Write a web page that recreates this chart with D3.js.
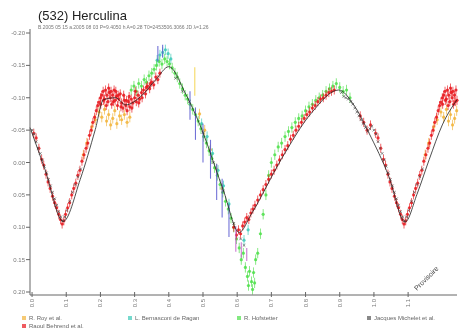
<!DOCTYPE html>
<html>
<head>
<meta charset="utf-8">
<script src="https://cdn.jsdelivr.net/npm/d3@7"></script>
<style>
  body { margin: 0; background: #fff; }
  svg { display: block; font-family: "Liberation Sans", Arial, sans-serif; filter: blur(0.3px); }
</style>
</head>
<body>
<svg id="LightCurve" width="459" height="332"></svg>
<script>
// [phase, magnitude] per observer
const behrendObs = [
  [0.005,-0.045],[0.012,-0.038],[0.020,-0.022],[0.028,-0.005],[0.034,0.004],[0.041,0.018],
  [0.047,0.030],[0.053,0.040],[0.060,0.052],[0.066,0.062],[0.072,0.070],[0.078,0.080],
  [0.083,0.088],[0.088,0.095],[0.093,0.090],[0.098,0.080],[0.104,0.070],[0.110,0.062],
  [0.116,0.050],[0.122,0.040],[0.128,0.032],[0.134,0.020],[0.140,0.012],[0.146,-0.002],
  [0.152,-0.012],[0.158,-0.022],[0.163,-0.030],[0.168,-0.042],[0.173,-0.050],[0.178,-0.062],
  [0.183,-0.070],[0.188,-0.080],[0.192,-0.088],[0.196,-0.093],[0.200,-0.100],[0.204,-0.104],
  [0.208,-0.110],[0.212,-0.098],[0.215,-0.112],[0.219,-0.104],[0.222,-0.094],[0.226,-0.108],
  [0.229,-0.100],[0.233,-0.090],[0.236,-0.104],[0.240,-0.112],[0.243,-0.096],[0.247,-0.102],
  [0.250,-0.088],[0.254,-0.098],[0.258,-0.106],[0.262,-0.092],[0.266,-0.084],[0.270,-0.096],
  [0.274,-0.088],[0.278,-0.080],[0.282,-0.094],[0.286,-0.086],[0.290,-0.098],[0.295,-0.092],
  [0.300,-0.100],[0.305,-0.094],[0.310,-0.104],[0.315,-0.098],[0.320,-0.108],[0.326,-0.112],
  [0.332,-0.106],[0.338,-0.118],[0.344,-0.114],[0.350,-0.124],[0.356,-0.120],[0.362,-0.132],
  [0.368,-0.128],[0.374,-0.138],
  [0.201,-0.090],[0.209,-0.096],[0.217,-0.088],[0.224,-0.115],[0.231,-0.110],[0.238,-0.094],
  [0.245,-0.110],[0.252,-0.104],[0.260,-0.086],[0.268,-0.104],[0.276,-0.096],[0.284,-0.102],
  [0.292,-0.084],[0.302,-0.110],[0.312,-0.092],[0.322,-0.100],[0.334,-0.116],[0.346,-0.122],
  [0.590,0.100],[0.598,0.112],[0.604,0.104],[0.610,0.110],[0.616,0.098],[0.622,0.092],
  [0.628,0.085],[0.634,0.088],[0.640,0.078],[0.646,0.072],[0.652,0.066],[0.660,0.058],
  [0.668,0.050],[0.676,0.042],[0.684,0.034],[0.692,0.026],[0.700,0.018],[0.708,0.012],
  [0.716,0.004],[0.724,-0.004],[0.732,-0.012],[0.740,-0.020],[0.748,-0.026],[0.756,-0.036],
  [0.764,-0.042],[0.772,-0.050],[0.780,-0.056],[0.788,-0.062],[0.796,-0.068],[0.804,-0.074],
  [0.812,-0.078],[0.820,-0.084],[0.828,-0.088],[0.836,-0.094],[0.844,-0.098],[0.852,-0.100],
  [0.860,-0.104],[0.868,-0.108],[0.876,-0.110],[0.884,-0.112],
  [0.960,-0.072],[0.970,-0.062],[0.980,-0.050],[0.990,-0.058]
];
const hofstetterObs = [
  [0.290,-0.112],[0.298,-0.118],[0.305,-0.110],[0.312,-0.122],[0.320,-0.118],[0.328,-0.128],
  [0.335,-0.124],[0.342,-0.134],[0.350,-0.138],[0.357,-0.144],[0.364,-0.150],[0.372,-0.156],
  [0.380,-0.152],[0.388,-0.160],[0.395,-0.156],[0.402,-0.152],[0.410,-0.146],[0.418,-0.138],
  [0.425,-0.132],[0.432,-0.122],[0.440,-0.114],[0.448,-0.104],[0.455,-0.098],[0.462,-0.090],
  [0.470,-0.082],[0.478,-0.074],[0.486,-0.064],[0.494,-0.052],[0.502,-0.040],[0.510,-0.030],
  [0.518,-0.018],[0.526,-0.006],[0.534,0.008],[0.542,0.020],[0.550,0.034],[0.558,0.046],
  [0.566,0.060],[0.574,0.072],[0.582,0.086],[0.590,0.100],[0.598,0.118],[0.606,0.132],
  [0.612,0.150],[0.618,0.140],[0.624,0.162],[0.630,0.176],[0.636,0.168],[0.642,0.184],
  [0.648,0.170],[0.654,0.150],[0.660,0.140],[0.668,0.110],[0.676,0.080],[0.684,0.050],
  [0.692,0.020],[0.700,0.000],[0.710,-0.012],[0.720,-0.024],[0.730,-0.030],[0.740,-0.040],
  [0.750,-0.048],[0.760,-0.054],[0.770,-0.062],[0.780,-0.068],[0.790,-0.072],[0.800,-0.080],
  [0.810,-0.086],[0.820,-0.090],[0.830,-0.096],[0.840,-0.100],[0.850,-0.104],[0.860,-0.110],
  [0.870,-0.114],[0.880,-0.118],[0.890,-0.122],[0.900,-0.116],[0.910,-0.110],[0.920,-0.112],
  [0.930,-0.100],[0.633,0.190],[0.645,0.196],[0.651,0.186]
];
const bernasconiObs = [
  [0.366,-0.158],[0.374,-0.166],[0.382,-0.170],[0.390,-0.174],[0.398,-0.168],[0.406,-0.160],
  [0.496,-0.060],[0.512,-0.040],[0.528,-0.014],[0.544,0.012],[0.560,0.036],[0.576,0.064],
  [0.620,0.120],[0.632,0.104]
];
const royObs = [
  [0.150,-0.012],[0.160,-0.030],[0.175,-0.055],[0.185,-0.066],[0.196,-0.078],[0.204,-0.070],
  [0.212,-0.082],[0.218,-0.064],[0.224,-0.074],[0.230,-0.058],[0.236,-0.068],[0.242,-0.080],
  [0.248,-0.060],[0.256,-0.072],[0.262,-0.066],[0.270,-0.074],[0.278,-0.062],[0.286,-0.070],
  [0.490,-0.075],[0.505,-0.050],[0.522,-0.020],[0.540,0.010],[0.556,0.040]
];
const micheletObs = [
  [0.905,-0.108],[0.912,-0.102],[0.918,-0.100],[0.925,-0.098],[0.932,-0.094],[0.938,-0.090],
  [0.944,-0.084],[0.950,-0.078],[0.956,-0.072],[0.962,-0.066],[0.968,-0.060],[0.975,-0.054],
  [0.982,-0.048],[0.988,-0.052],[0.994,-0.056],[0.000,-0.050],[0.006,-0.044],[0.012,-0.032],
  [0.018,-0.022],[0.024,-0.014],[0.030,-0.004],[0.036,0.006],[0.042,0.016],[0.048,0.026],
  [0.054,0.036],[0.060,0.046],[0.066,0.056],[0.072,0.066],[0.078,0.076],[0.084,0.084],
  [0.090,0.090],[0.096,0.084],[0.102,0.074],[0.110,0.060],[0.118,0.046],[0.126,0.034],
  [0.134,0.022],[0.142,0.010],[0.420,-0.130],[0.440,-0.110],[0.460,-0.094],[0.500,-0.046],
  [0.530,0.000],[0.560,0.044],[0.590,0.094],[0.610,0.118],[0.620,0.128]
];
// [phase, magnitude, error] long error bars
const blueObs = [
  [0.368,-0.168,0.012],[0.382,-0.172,0.010],[0.462,-0.088,0.022],[0.478,-0.060,0.025],
  [0.500,-0.030,0.030],[0.522,-0.005,0.030],[0.540,0.030,0.028],[0.556,0.055,0.030],
  [0.576,0.090,0.025]
];
const purpleObs = [[0.596,0.118,0.020],[0.612,0.135,0.012],[0.628,0.142,0.010]];
const yellowBar = [[0.476,-0.125,0.022]];

// fitted light curve
const fitPhase = [-0.006,0.038,0.091,0.141,0.185,0.209,0.244,0.274,0.318,0.362,0.400,0.450,0.488,
  0.559,0.606,0.641,0.729,0.818,0.897,0.941,0.985,1.044,1.091,1.126,1.162,1.200,1.243];
const fitMag = [-0.054,0.011,0.091,0.026,-0.051,-0.097,-0.100,-0.089,-0.102,-0.128,-0.148,-0.105,-0.062,
  0.042,0.108,0.080,-0.005,-0.077,-0.112,-0.089,-0.046,0.022,0.092,0.049,-0.005,-0.058,-0.097];

const phaseTicks = [0.0,0.1,0.2,0.3,0.4,0.5,0.6,0.7,0.8,0.9,1.0,1.1];
const phaseLabels = ["0.0","0.1","0.2","0.3","0.4","0.5","0.6","0.7","0.8","0.9","1.0","1.1"];
const magTicks = [-0.20,-0.15,-0.10,-0.05,0.00,0.05,0.10,0.15,0.20];
const magLabels = ["-0.20","-0.15","-0.10","-0.05","0.00","0.05","0.10","0.15","0.20"];

const legendNames = ["R. Roy et al.","L. Bernasconi de Ragan","R. Hofstetter","Jacques Michelet et al.","Raoul Behrend et al."];

const svg = d3.select("svg#LightCurve");
const xScale = d3.scaleLinear().domain([-0.006, 1.243]).range([30, 457]);
const yScale = d3.scaleLinear().domain([-0.20, 0.20]).range([33, 292]);
const axisY = 295;

// phases below ~0.24 are repeated after 1.0
function wrap(data) {
  const out = data.slice();
  data.forEach(d => { if (d[0] + 1 <= 1.243) out.push([d[0] + 1, d[1], d[2]]); });
  return out;
}

const series = [
  { data: royObs, color: "#f2b43a", err: 0.008, kind: "dot" },
  { data: bernasconiObs, color: "#3cc9b8", err: 0.008, kind: "dot" },
  { data: hofstetterObs, color: "#4ee04a", err: 0.008, kind: "dot" },
  { data: behrendObs, color: "#e8161c", err: 0.007, kind: "dot" },
  { data: micheletObs, color: "#555", err: 0, kind: "cross" },
  { data: blueObs, color: "#5a5ad0", err: 0, kind: "bar" },
  { data: purpleObs, color: "#c060c8", err: 0, kind: "bar" },
  { data: yellowBar, color: "#f4d24a", err: 0, kind: "bar" }
];

const plot = svg.append("g").attr("id", "Points");

series.forEach(s => {
  const g = plot.append("g");
  const pts = wrap(s.data);
  const e = d => (d[2] !== undefined ? d[2] : s.err);
  g.selectAll("line.err").data(pts).enter().append("line")
    .attr("class", "err")
    .attr("x1", d => xScale(d[0])).attr("x2", d => xScale(d[0]))
    .attr("y1", d => yScale(d[1] - e(d))).attr("y2", d => yScale(d[1] + e(d)))
    .attr("stroke", s.color).attr("stroke-width", s.kind === "bar" ? 1.1 : 0.8)
    .attr("opacity", 0.85);
  if (s.kind === "dot") {
    g.selectAll("circle").data(pts).enter().append("circle")
      .attr("cx", d => xScale(d[0])).attr("cy", d => yScale(d[1]))
      .attr("r", 1.6).attr("fill", s.color).attr("opacity", 0.85);
  } else if (s.kind === "cross") {
    g.selectAll("path").data(pts).enter().append("path")
      .attr("d", d => {
        const x = xScale(d[0]), y = yScale(d[1]);
        return `M${x-1.3},${y-1.3}L${x+1.3},${y+1.3}M${x-1.3},${y+1.3}L${x+1.3},${y-1.3}`;
      })
      .attr("stroke", s.color).attr("stroke-width", 0.7).attr("fill", "none");
  }
});

// fit line
const line = d3.line()
  .x(d => xScale(d[0]))
  .y(d => yScale(d[1]))
  .curve(d3.curveMonotoneX);
svg.append("path")
  .datum(fitPhase.map((p, i) => [p, fitMag[i]]))
  .attr("d", line)
  .attr("fill", "none").attr("stroke", "#222").attr("stroke-width", 0.8);

// axes
svg.append("line").attr("x1", 30).attr("x2", 30).attr("y1", 29).attr("y2", axisY)
  .attr("stroke", "#666").attr("stroke-width", 1);
svg.append("line").attr("x1", 30).attr("x2", 457).attr("y1", axisY).attr("y2", axisY)
  .attr("stroke", "#666").attr("stroke-width", 1);

const yAxis = svg.append("g");
yAxis.selectAll("line").data(magTicks).enter().append("line")
  .attr("x1", 26).attr("x2", 30)
  .attr("y1", d => yScale(d)).attr("y2", d => yScale(d))
  .attr("stroke", "#666");
yAxis.selectAll("text").data(magTicks).enter().append("text")
  .attr("x", 25).attr("y", d => yScale(d) + 2)
  .attr("text-anchor", "end").attr("font-size", 6).attr("fill", "#777")
  .text((d, i) => magLabels[i]);

const xAxis = svg.append("g");
xAxis.selectAll("line").data(phaseTicks).enter().append("line")
  .attr("x1", d => xScale(d)).attr("x2", d => xScale(d))
  .attr("y1", axisY - 3).attr("y2", axisY + 2)
  .attr("stroke", "#666");
xAxis.selectAll("text").data(phaseTicks).enter().append("text")
  .attr("transform", d => `translate(${xScale(d) + 2},${axisY + 4}) rotate(-90)`)
  .attr("text-anchor", "end").attr("font-size", 6).attr("fill", "#777")
  .text((d, i) => phaseLabels[i]);

// titles
svg.append("text").attr("x", 38).attr("y", 20)
  .attr("font-size", 13).attr("fill", "#222").text("(532) Herculina");
svg.append("text").attr("x", 38).attr("y", 29)
  .attr("font-size", 5).attr("fill", "#777")
  .text("B.2005 05 15 a.2005 08 03   P=9.4050 h   A=0.28   T0=2453506.3066 JD   λ=1.26");

svg.append("text")
  .attr("transform", "translate(428,280) rotate(-45)")
  .attr("font-size", 7).attr("fill", "#444").attr("text-anchor", "middle")
  .text("Provisoire");

// legend
const legendColors = ["#f2b43a", "#3cc9b8", "#4ee04a", "#555", "#e8161c"];
const legendPos = [[22, 320], [128, 320], [237, 320], [367, 320], [22, 328]];
const legend = svg.append("g").attr("id", "Legend");
legendNames.forEach((name, i) => {
  const [x, y] = legendPos[i];
  legend.append("rect").attr("x", x).attr("y", y - 4).attr("width", 4).attr("height", 4)
    .attr("fill", legendColors[i]).attr("opacity", 0.7);
  legend.append("text").attr("x", x + 7).attr("y", y)
    .attr("font-size", 6).attr("fill", "#666").text(name);
});
</script>
</body>
</html>
